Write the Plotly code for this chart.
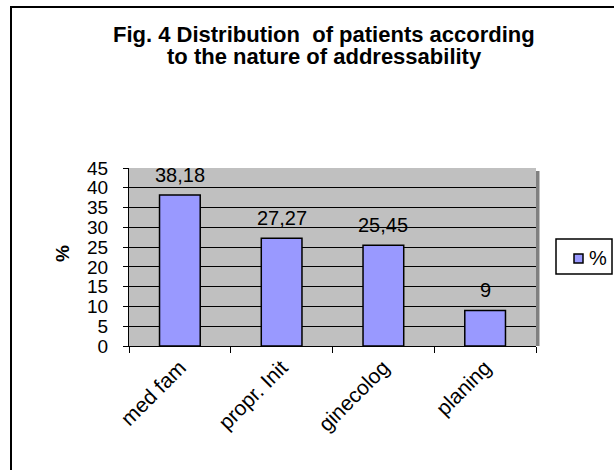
import plotly.graph_objects as go

categories = ["med fam", "propr. Init", "ginecolog", "planing"]
values = [38.18, 27.27, 25.45, 9]
value_labels = ["38,18", "27,27", "25,45", "9"]
series_name = "%"
title_lines = ["Fig. 4 Distribution  of patients according", "to the nature of addressability"]
y_title = "%"

W, H = 614, 470
L, R, T, B = 129, 78, 168, 124
pw, ph = W - L - R, H - T - B

def px_x(x):
    return (x - L) / pw

def px_y(y):
    return (H - B - y) / ph

font_family = "Liberation Sans, Arial, sans-serif"
bar_color = "#9999FF"

fig = go.Figure()
fig.add_trace(go.Bar(
    x=categories, y=values, name=series_name,
    marker=dict(color=bar_color, line=dict(color="black", width=1.5)),
    width=0.4, showlegend=False,
))

for c, v, t in zip(categories, values, value_labels):
    fig.add_annotation(x=c, y=v, text=t, showarrow=False, yanchor="middle",
                       yshift=20, font=dict(size=20, color="black"))

# title (two lines, placed individually)
for line, yc in zip(title_lines, [34, 57]):
    fig.add_annotation(text="<b>" + line + "</b>", x=px_x(324), y=px_y(yc),
                       xref="paper", yref="paper", showarrow=False,
                       xanchor="center", yanchor="middle",
                       font=dict(size=22, color="black"))

fig.update_layout(
    width=W, height=H,
    margin=dict(l=L, r=R, t=T, b=B, autoexpand=False),
    paper_bgcolor="white", plot_bgcolor="#C0C0C0",
    font=dict(family=font_family, color="black", size=20),
    showlegend=False,
    bargap=0.6,
)

fig.update_xaxes(
    type="category", showline=True, linecolor="black", linewidth=1,
    ticks="outside", ticklen=6, tickcolor="black", tickson="boundaries",
    tickangle=-45, tickfont=dict(size=21), showgrid=False,
)
fig.update_yaxes(
    range=[0, 45], dtick=5, showline=True, linecolor="black", linewidth=1,
    ticks="outside", ticklen=5, tickcolor="black",
    showgrid=True, gridcolor="black", gridwidth=1,
    tickfont=dict(size=19), zeroline=False, ticklabelstandoff=11,
)

# y-axis title
fig.add_annotation(text="<b>" + y_title + "</b>", x=px_x(62), y=px_y(254), xref="paper", yref="paper",
                   showarrow=False, textangle=-90, font=dict(size=19),
                   xanchor="center", yanchor="middle")

# plot area shadow on the right
fig.add_shape(type="rect", xref="paper", yref="paper",
              x0=1, x1=px_x(539.5), y0=px_y(346), y1=px_y(171),
              fillcolor="#808080", line=dict(width=0), layer="below")

# custom legend
fig.add_shape(type="rect", xref="paper", yref="paper",
              x0=px_x(556), x1=px_x(612), y0=px_y(274), y1=px_y(239),
              fillcolor="white", line=dict(color="black", width=1.5))
fig.add_shape(type="rect", xref="paper", yref="paper",
              x0=px_x(574), x1=px_x(583), y0=px_y(263), y1=px_y(254),
              fillcolor=bar_color, line=dict(color="black", width=1.5))
fig.add_annotation(text=series_name, x=px_x(598), y=px_y(258), xref="paper", yref="paper",
                   showarrow=False, xanchor="center", yanchor="middle",
                   font=dict(size=20))

# outer chart border (left and top visible)
fig.add_shape(type="line", xref="paper", yref="paper",
              x0=px_x(11), x1=px_x(11), y0=px_y(480), y1=px_y(7),
              line=dict(color="black", width=2))
fig.add_shape(type="line", xref="paper", yref="paper",
              x0=px_x(10), x1=px_x(620), y0=px_y(7), y1=px_y(7),
              line=dict(color="black", width=2))

fig.write_html("out.html", config={"displayModeBar": False},
               post_script="document.body.style.margin='0';document.body.style.overflow='hidden';")
